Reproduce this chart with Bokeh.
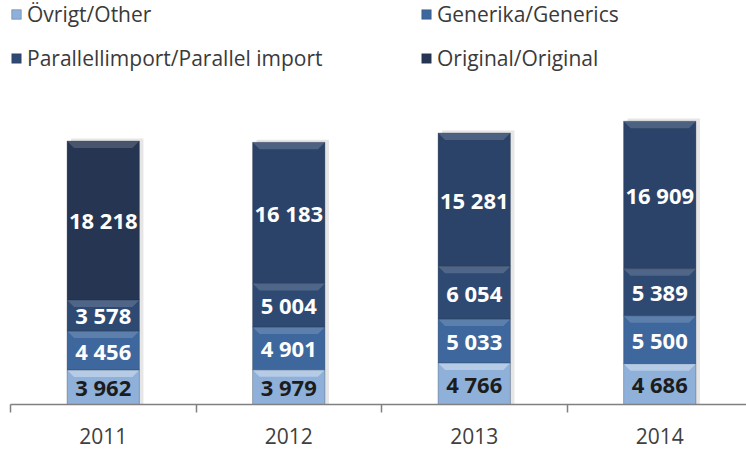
from bokeh.plotting import figure
from bokeh.models import ColumnDataSource, FixedTicker, Legend, LegendItem, Range1d
from bokeh.embed import file_html
from bokeh.resources import INLINE
from bokeh.core.properties import value

# ---- data ----
years = ["2011", "2012", "2013", "2014"]
ovrigt = [3962, 3979, 4766, 4686]
generika = [4456, 4901, 5033, 5500]
parallell = [3578, 5004, 6054, 5389]
original = [18218, 16183, 15281, 16909]
series_names = ["Övrigt/Other", "Generika/Generics",
                "Parallellimport/Parallel import", "Original/Original"]

# ---- styles ----
col_other = "#8eb0d9"
col_gen = "#3e679d"
col_par = "#2e4972"
col_orig = ["#253552", "#2b4368", "#2b4368", "#2b4368"]
FONT = "Open Sans"
PX_PER_UNIT = 0.00872   # vertical scale
CAT_PX = 185.5          # category spacing in px
BAR_W = 0.39

W, H = 746, 450
LEFT = 10
FRAME_H = 404
p = figure(width=W, height=H, output_backend="svg", toolbar_location=None,
           x_range=Range1d(0, (W - LEFT) / CAT_PX), y_range=Range1d(0, FRAME_H / PX_PER_UNIT),
           min_border_left=LEFT, min_border_right=0, min_border_top=0,
           min_border_bottom=H - FRAME_H)
p.outline_line_color = None
p.grid.visible = False
p.yaxis.visible = False
p.background_fill_color = "white"
p.border_fill_color = "white"

xs = [i + 0.5 for i in range(len(years))]
series = [ovrigt, generika, parallell, original]
bottoms, tops = [], []
acc = [0] * len(years)
for s in series:
    b = list(acc)
    t = [a + v for a, v in zip(acc, s)]
    bottoms.append(b)
    tops.append(t)
    acc = t

# shadow to the right of each bar
shadow_dx = 4 / CAT_PX
p.vbar(x=[x + shadow_dx for x in xs], width=BAR_W, bottom=0, top=[t + 300 for t in tops[-1]],
       fill_color="#9a9a9a", fill_alpha=0.25, line_color=None)

colors = [[col_other] * 4, [col_gen] * 4, [col_par] * 4, col_orig]
renderers = []
bevel_h = 7 / PX_PER_UNIT
bevel_dx = 7 / CAT_PX
for i, s in enumerate(series):
    src = ColumnDataSource(dict(x=xs, bottom=bottoms[i], top=tops[i], color=colors[i],
                                mid=[(a + b) / 2 for a, b in zip(bottoms[i], tops[i])],
                                label=[f"{v:,}".replace(",", " ") for v in s]))
    r = p.vbar(x="x", width=BAR_W, bottom="bottom", top="top", source=src,
               fill_color="color", line_color="#1d2b40", line_alpha=0.3, line_width=1)
    renderers.append(r)
    # bevel trapezoid at the top of each segment
    bxs, bys = [], []
    for x, t in zip(xs, tops[i]):
        l, rr = x - BAR_W / 2, x + BAR_W / 2
        bxs.append([l, rr, rr - bevel_dx, l + bevel_dx])
        bys.append([t, t, t - bevel_h, t - bevel_h])
    p.patches(bxs, bys, fill_color="white", fill_alpha=0.35 if i == 0 else 0.16, line_color=None)
    p.text(x="x", y="mid", text="label", source=src,
           text_color="#1c1c1c" if i == 0 else "white",
           text_font=value(FONT), text_font_style="bold", text_font_size="22px",
           text_align="center", text_baseline="middle")

# x axis: labels at category centers, tick marks at category boundaries
ax = p.xaxis[0]
ax.ticker = FixedTicker(ticks=xs, minor_ticks=[0, 1, 2, 3])
ax.major_label_overrides = {x: y for x, y in zip(xs, years)}
ax.major_tick_line_color = None
ax.major_tick_out = 0
ax.major_tick_in = 0
ax.minor_tick_line_color = "#808080"
ax.minor_tick_line_width = 1.5
ax.minor_tick_out = 8
ax.minor_tick_in = 0
ax.axis_line_color = "#808080"
ax.axis_line_width = 1.5
ax.major_label_text_font = FONT
ax.major_label_text_font_size = "21px"
ax.major_label_text_color = "#404040"
ax.major_label_standoff = 15

legend = Legend(items=[LegendItem(label=series_names[0], renderers=[renderers[0]]),
                       LegendItem(label=series_names[2], renderers=[renderers[2]]),
                       LegendItem(label=series_names[1], renderers=[renderers[1]]),
                       LegendItem(label=series_names[3], renderers=[renderers[3]])],
                location="top_left", ncols=2, padding=0, margin=0, spacing=16,
                glyph_width=12, glyph_height=12, label_standoff=5, label_width=377,
                label_height=20, label_text_font=FONT, label_text_font_size="21px",
                label_text_color="#3a3a3a", border_line_color=None,
                background_fill_alpha=0)
p.add_layout(legend)

open("out.html", "w").write(file_html(p, INLINE))
